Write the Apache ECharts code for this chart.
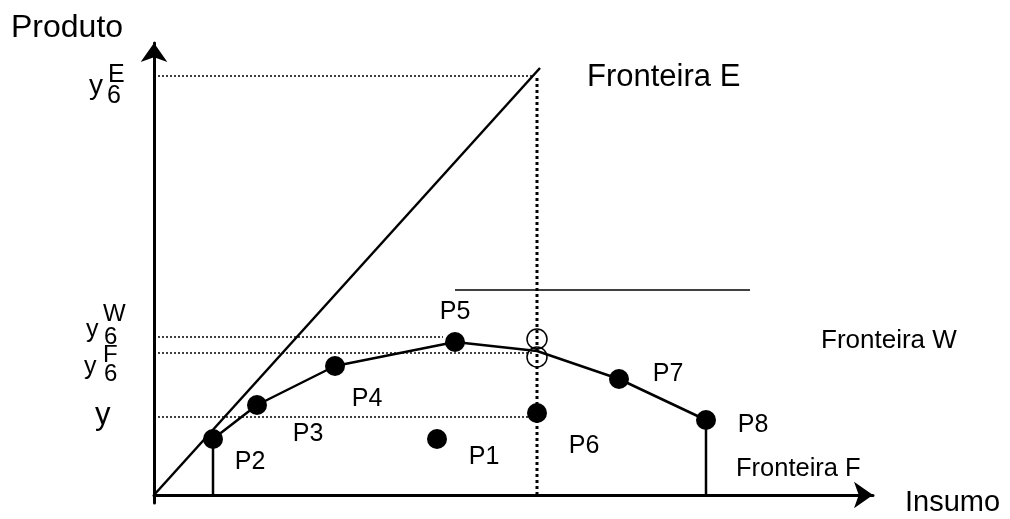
<!DOCTYPE html>
<html>
<head>
<meta charset="utf-8">
<title>Fronteiras</title>
<script src="https://cdn.jsdelivr.net/npm/echarts@6/dist/echarts.min.js"></script>
<style>
  html, body { margin: 0; padding: 0; background: #fff; }
  #chart { width: 1010px; height: 519px; }
</style>
</head>
<body>
<div id="chart"></div>
<script>
// pontos observados (insumo, produto)
var pointNames = ['P1', 'P2', 'P3', 'P4', 'P5', 'P6', 'P7', 'P8'];
var pointX = [283, 59, 103, 181, 301, 383, 465, 552];
var pointY = [56, 56, 90, 129, 153, 82, 116, 75];

// fronteira F (linha poligonal)
var frontierFX = [59, 103, 181, 301, 383, 465, 552];
var frontierFY = [56, 90, 129, 153, 144, 116, 75];

// fronteira E (retorno constante)
var frontierEX = [0, 386];
var frontierEY = [0, 427];

// projeções de P6 (círculos vazios)
var projX = [383, 383];
var projY = [156, 138];

// níveis do eixo vertical: y6E, y6W, y6F, y
var levelNames = ['y6E', 'y6W', 'y6F', 'y'];
var levelY = [419, 158, 142, 78];
var levelEndX = [379, 289, 378, 374];

// insumo de P6
var inputP6 = 383;

// linha horizontal (fronteira W)
var frontierWX = [301, 596];
var frontierWY = [205, 205];

var FONT = 'Liberation Sans, Arial, sans-serif';

var chart = echarts.init(document.getElementById('chart'));

function pairs(xs, ys) {
    return xs.map(function (x, i) { return [x, ys[i]]; });
}

function seg(a, b, style) {
    return {
        type: 'line',
        data: [a, b],
        symbol: 'none',
        silent: true,
        animation: false,
        lineStyle: style
    };
}

// deslocamento dos rótulos P1..P8 em relação ao ponto
var labelOffset = {
    P1: [47, 18], P2: [37, 23], P3: [51, 29], P4: [32, 33],
    P5: [0, -30], P6: [47, 33], P7: [49, -5], P8: [47, 5]
};

var series = [];

// linhas pontilhadas horizontais
levelY.forEach(function (v, i) {
    series.push(seg([0, v], [levelEndX[i], v], { color: '#000', width: 1.5, type: [2, 2] }));
});
// pontilhada vertical em P6
series.push(seg([inputP6, 0], [inputP6, levelY[0]], { color: '#000', width: 3, type: [3, 3] }));

// fronteira E
series.push({
    type: 'line', data: pairs(frontierEX, frontierEY), symbol: 'none', animation: false,
    lineStyle: { color: '#000', width: 2.5 }
});
// fronteira F
series.push({
    type: 'line', data: pairs(frontierFX, frontierFY), symbol: 'none', animation: false,
    lineStyle: { color: '#000', width: 2.5 }
});
// linha horizontal superior
series.push(seg([frontierWX[0], frontierWY[0]], [frontierWX[1], frontierWY[1]], { color: '#000', width: 1.5 }));
// verticais de P2 e P8
series.push(seg([pointX[1], 0], [pointX[1], pointY[1]], { color: '#000', width: 2.5 }));
series.push(seg([pointX[7], 0], [pointX[7], pointY[7]], { color: '#000', width: 2.5 }));

// pontos
series.push({
    type: 'scatter',
    symbolSize: 20,
    animation: false,
    itemStyle: { color: '#000', opacity: 1 },
    data: pointNames.map(function (n, i) {
        return {
            name: n,
            value: [pointX[i], pointY[i]],
            label: { show: true, position: 'inside', offset: labelOffset[n], formatter: n,
                     color: '#000', fontSize: 25, fontFamily: FONT }
        };
    })
});

// círculos vazios
series.push({
    type: 'scatter',
    symbol: 'circle',
    symbolSize: 20,
    animation: false,
    itemStyle: { color: 'rgba(255,255,255,0)', borderColor: '#000', borderWidth: 1.5, opacity: 1 },
    data: pairs(projX, projY)
});

var option = {
    backgroundColor: '#fff',
    animation: false,
    grid: { left: 154, right: 137, top: 43, bottom: 16 },
    xAxis: {
        type: 'value', min: 0, max: 719,
        axisLine: { onZero: true, symbol: ['none', 'arrow'], symbolSize: [20, 19],
                    lineStyle: { color: '#000', width: 3 } },
        axisTick: { show: false }, axisLabel: { show: false }, splitLine: { show: false }
    },
    yAxis: {
        type: 'value', min: -8, max: 452,
        axisLine: { show: true, symbol: ['none', 'arrow'], symbolSize: [20, 19],
                    lineStyle: { color: '#000', width: 3 } },
        axisTick: { show: false }, axisLabel: { show: false }, splitLine: { show: false }
    },
    series: series,
    graphic: [
        { type: 'text', left: 11, top: 12, style: { text: 'Produto', fontSize: 32, fontFamily: FONT, fill: '#000' } },
        { type: 'text', left: 905, top: 488, style: { text: 'Insumo', fontSize: 29, fontFamily: FONT, fill: '#000' } },
        { type: 'text', left: 587, top: 62, style: { text: 'Fronteira E', fontSize: 31, fontFamily: FONT, fill: '#000' } },
        { type: 'text', left: 821, top: 328, style: { text: 'Fronteira W', fontSize: 26, fontFamily: FONT, fill: '#000' } },
        { type: 'text', left: 736, top: 456, style: { text: 'Fronteira F', fontSize: 25.5, fontFamily: FONT, fill: '#000' } },
        // y6E
        { type: 'text', left: 89, top: 72, style: { text: 'y', fontSize: 28, fontFamily: FONT, fill: '#000' } },
        { type: 'text', left: 108, top: 63, style: { text: 'E', fontSize: 25, fontFamily: FONT, fill: '#000' } },
        { type: 'text', left: 107, top: 84, style: { text: '6', fontSize: 25, fontFamily: FONT, fill: '#000' } },
        // y6W
        { type: 'text', left: 86, top: 318, style: { text: 'y', fontSize: 25, fontFamily: FONT, fill: '#000' } },
        { type: 'text', left: 103, top: 302, style: { text: 'W', fontSize: 24, fontFamily: FONT, fill: '#000' } },
        { type: 'text', left: 104, top: 325, style: { text: '6', fontSize: 24, fontFamily: FONT, fill: '#000' } },
        // y6F
        { type: 'text', left: 84, top: 355, style: { text: 'y', fontSize: 25, fontFamily: FONT, fill: '#000' } },
        { type: 'text', left: 103, top: 343, style: { text: 'F', fontSize: 24, fontFamily: FONT, fill: '#000' } },
        { type: 'text', left: 104, top: 362, style: { text: '6', fontSize: 24, fontFamily: FONT, fill: '#000' } },
        // y
        { type: 'text', left: 95, top: 400, style: { text: 'y', fontSize: 31, fontFamily: FONT, fill: '#000' } }
    ]
};

chart.setOption(option);
</script>
</body>
</html>
